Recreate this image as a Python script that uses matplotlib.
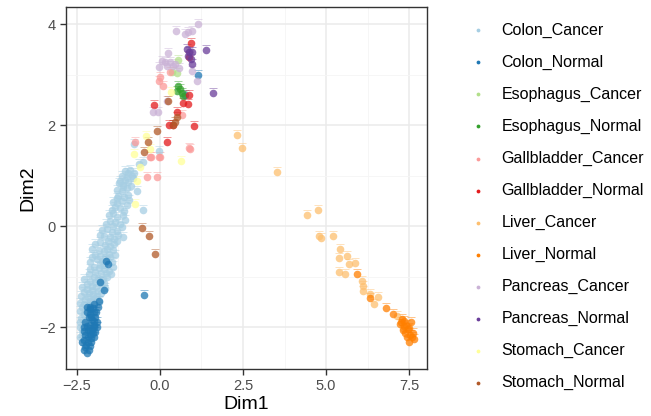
import numpy as np
import matplotlib
matplotlib.use("Agg")
import matplotlib.pyplot as plt

plt.rcParams['font.family'] = ['Liberation Sans', 'DejaVu Sans']

groups = ["Colon_Cancer", "Colon_Normal", "Esophagus_Cancer", "Esophagus_Normal",
          "Gallbladder_Cancer", "Gallbladder_Normal", "Liver_Cancer", "Liver_Normal",
          "Pancreas_Cancer", "Pancreas_Normal", "Stomach_Cancer", "Stomach_Normal"]
colors = ["#A6CEE3", "#1F78B4", "#B2DF8A", "#33A02C", "#FB9A99", "#E31A1C",
          "#FDBF6F", "#FF7F00", "#CAB2D6", "#6A3D9A", "#FFFF99", "#B15928"]

colon_cancer_x = [-0.78, -0.03, -0.63, -0.51, -0.69, -0.51,
                  -1.05, -0.95, -0.85, -1.15, -0.90,
                  -1.20, -1.05, -0.95, -0.82, -1.10,
                  -1.30, -1.15, -1.00, -0.95, -1.25, -1.08,
                  -1.40, -1.28, -1.15, -1.00, -1.35, -1.20,
                  -1.55, -1.40, -1.28, -1.10, -1.50, -1.35, -1.20, -1.05,
                  -1.75, -1.60, -1.45, -1.30, -1.68, -1.52, -1.38, -1.25,
                  -1.95, -1.80, -1.65, -1.50, -1.38, -1.85, -1.70, -1.55, -1.42,
                  -2.05, -1.90, -1.75, -1.60, -1.45, -2.00, -1.85, -1.70, -1.55,
                  -2.15, -2.00, -1.88, -1.72, -1.60, -2.20, -2.05, -1.92, -1.78, -1.65,
                  -2.30, -2.15, -2.02, -1.88, -2.25, -2.10, -1.95, -1.85,
                  -2.35, -2.20, -2.05, -2.30, -2.15,
                  -2.40, -2.35, -2.40, -2.30,
                  -1.00, -1.12, -0.88, -1.22, -0.78,
                  -1.08, -1.30, -0.92, -1.45,
                  -1.62, -1.15, -1.42, -1.80, -1.58, -1.30, -1.10,
                  -2.05, -1.60, -1.35, -1.95, -1.80, -1.65, -1.50, -2.10, -1.82, -1.68,
                  -1.40, -1.95, -1.78, -1.62, -1.48, -2.12,
                  -2.28, -2.10, -1.95, -1.82, -1.70, -2.35, -2.20, -2.05, -1.78, -2.38,
                  -2.18, -2.02, -1.90, -2.40, -2.28, -2.12, -1.98, -2.40, -2.25, -2.08,
                  -2.38, -2.25, -2.42, -2.35, -2.25]
colon_cancer_y = [1.62, 1.49, 1.23, 1.27, 0.69, 0.32,
                  1.10, 1.05, 1.00, 1.00, 1.12,
                  0.90, 0.92, 0.88, 0.95, 0.82,
                  0.72, 0.70, 0.75, 0.62, 0.60, 0.58,
                  0.48, 0.45, 0.50, 0.42, 0.38, 0.35,
                  0.22, 0.25, 0.18, 0.22, 0.10, 0.08, 0.05, 0.12,
                  -0.08, -0.05, -0.12, -0.10, -0.20, -0.22, -0.25, -0.18,
                  -0.35, -0.32, -0.38, -0.40, -0.35, -0.48, -0.50, -0.55, -0.48,
                  -0.62, -0.65, -0.70, -0.68, -0.72, -0.80, -0.82, -0.85, -0.88,
                  -0.95, -1.00, -1.02, -1.05, -1.00, -1.15, -1.18, -1.20, -1.15, -1.22,
                  -1.30, -1.32, -1.35, -1.28, -1.45, -1.48, -1.42, -1.50,
                  -1.60, -1.62, -1.58, -1.75, -1.72,
                  -1.90, -2.05, -2.20, -2.30,
                  0.98, 0.78, 0.80, 0.85, 1.05,
                  0.30, 0.55, 0.52, 0.32,
                  0.05, -0.02, 0.00, -0.18, -0.30, -0.30, -0.22,
                  -0.45, -0.45, -0.58, -0.58, -0.60, -0.62, -0.62, -0.72, -0.75, -0.78,
                  -0.80, -0.90, -0.92, -0.92, -0.95, -0.85,
                  -1.05, -1.08, -1.10, -1.08, -1.12, -1.20, -1.25, -1.26, -1.32, -1.38,
                  -1.40, -1.45, -1.38, -1.52, -1.55, -1.55, -1.52, -1.68, -1.68, -1.68,
                  -1.82, -1.85, -2.00, -2.15, -2.05]

colon_normal_x = [-0.48, -1.69, -1.84, -1.63, -1.58, 1.14, 0.75, -1.81,
                  -2.20, -2.10, -2.00, -1.95, -2.15, -2.05, -2.25, -2.10, -2.00, -1.90,
                  -2.30, -2.18, -2.05, -1.95, -2.25, -2.12, -2.00, -2.30, -2.18, -2.08,
                  -2.25, -2.15, -2.20, -2.35, -1.90, -2.10,
                  -2.12, -2.02, -1.92, -2.20, -2.08, -1.98, -2.20, -2.12, -2.02, -2.28,
                  -2.18, -2.08, -2.22, -2.12, -2.30, -1.98, -2.00, -1.88]
colon_normal_y = [-1.37, -1.27, -1.49, -0.70, -0.75, 2.99, 2.59, -1.11,
                  -1.60, -1.65, -1.70, -1.80, -1.80, -1.85, -1.90, -1.95, -1.95, -1.90,
                  -2.00, -2.05, -2.05, -2.10, -2.15, -2.15, -2.20, -2.25, -2.30, -2.30,
                  -2.40, -2.45, -2.52, -2.30, -2.00, -1.75,
                  -1.60, -1.62, -1.70, -1.70, -1.80, -1.88, -1.98, -2.08, -2.12, -2.08,
                  -2.20, -2.22, -2.35, -2.38, -2.45, -2.00, -1.55, -1.60]

esophagus_cancer_x = [0.54, 0.51, 0.36]
esophagus_cancer_y = [3.29, 3.03, 3.05]
esophagus_normal_x = [0.54, 0.60, 0.51, 0.66, 0.70]
esophagus_normal_y = [2.77, 2.71, 2.67, 2.63, 2.58]

gallbladder_cancer_x = [-0.03, 0.09, 0.90, 0.00, -0.30, -0.75, -0.27, -0.03,
                        -0.39, -0.09, 0.87, 0.00, 0.66, 0.30]
gallbladder_cancer_y = [2.87, 2.77, 1.52, 1.37, 1.37, 1.66, 1.37, 1.37,
                        0.97, 0.97, 1.54, 2.95, 2.20, 3.05]
gallbladder_normal_x = [0.93, 0.87, 0.87, -0.18, 0.69, 0.51, 0.27, 0.39, 1.02, 0.21, 0.84]
gallbladder_normal_y = [3.62, 3.35, 2.59, 2.40, 2.44, 2.26, 2.00, 2.00, 1.98, 1.66, 2.42]

liver_cancer_x = [2.32, 2.46, 3.52, 4.43, 4.76, 4.79, 4.84, 5.20, 5.41, 5.40, 5.63,
                  5.68, 5.88, 5.39, 5.57, 6.08, 6.10, 6.12, 6.33, 6.56, 6.45, 7.13, 7.33]
liver_cancer_y = [1.80, 1.54, 1.07, 0.22, 0.32, -0.20, -0.23, -0.19, -0.45, -0.64, -0.59,
                  -0.76, -0.74, -0.90, -0.94, -1.08, -1.18, -1.28, -1.35, -1.41, -1.55, -1.79, -2.01]
liver_normal_x = [5.94, 6.33, 6.80, 7.03, 7.23, 7.29, 7.35, 7.41, 7.47, 7.38, 7.53, 7.59,
                  7.44, 7.32, 7.50, 7.56, 7.65, 7.26, 7.62, 7.50, 7.35]
liver_normal_y = [-0.94, -1.43, -1.62, -1.74, -1.94, -1.84, -1.88, -1.96, -2.04, -2.12, -2.16,
                  -2.20, -2.20, -2.06, -2.02, -1.90, -2.24, -1.90, -2.12, -2.30, -1.98]

pancreas_cancer_x = [0.48, 0.84, 0.96, 1.14, 0.24, 0.15, 0.06, 0.21, 0.30, 0.39, 0.45,
                     0.57, 0.96, 1.11, -0.03, -0.21, -0.06, 0.21, 0.90, 0.75]
pancreas_cancer_y = [3.86, 3.84, 3.86, 4.00, 3.43, 3.25, 3.27, 3.17, 3.25, 3.17, 3.21,
                     3.13, 3.07, 2.87, 3.15, 2.26, 2.26, 2.48, 3.47, 3.80]
pancreas_normal_x = [0.81, 0.87, 0.96, 0.84, 0.93, 0.96, 1.39, 1.60]
pancreas_normal_y = [3.50, 3.45, 3.45, 3.37, 3.31, 3.21, 3.49, 2.63]

stomach_cancer_x = [0.33, -0.42, -0.78, -0.60, -0.69, 0.63, -0.75, -0.30]
stomach_cancer_y = [2.65, 1.78, 1.43, 1.17, 0.89, 1.29, 0.44, 1.52]
stomach_normal_x = [-0.09, 0.24, 0.51, 0.45, -0.36, -0.48, 0.39, -0.54, -0.33, -0.15]
stomach_normal_y = [1.88, 2.48, 2.16, 2.06, 1.66, 1.47, 2.00, -0.04, -0.20, -0.55]

xs = [colon_cancer_x, colon_normal_x, esophagus_cancer_x, esophagus_normal_x,
      gallbladder_cancer_x, gallbladder_normal_x, liver_cancer_x, liver_normal_x,
      pancreas_cancer_x, pancreas_normal_x, stomach_cancer_x, stomach_normal_x]
ys = [colon_cancer_y, colon_normal_y, esophagus_cancer_y, esophagus_normal_y,
      gallbladder_cancer_y, gallbladder_normal_y, liver_cancer_y, liver_normal_y,
      pancreas_cancer_y, pancreas_normal_y, stomach_cancer_y, stomach_normal_y]

fig = plt.figure(figsize=(6.51, 4.16), dpi=100)
ax = fig.add_axes([66 / 651, 1 - 369 / 416, (427 - 66) / 651, (369 - 7) / 416])

for name, c, x, y in zip(groups, colors, xs, ys):
    x = np.array(x)
    y = np.array(y)
    ax.scatter(x, y, s=30, color=c, alpha=0.75, linewidths=0, label=name, zorder=3)
    # tiny sample tags sitting just above each point
    ax.scatter(x, y + 0.1, s=28, marker="_", color=c, alpha=0.45, linewidths=0.7, zorder=2)

ax.set_xlim(-2.83, 8.04)
ax.set_ylim(-2.83, 4.34)
ax.set_xticks([-2.5, 0.0, 2.5, 5.0, 7.5])
ax.set_xticklabels(["\u22122.5", "0.0", "2.5", "5.0", "7.5"])
ax.set_yticks([-2, 0, 2, 4])
ax.set_yticklabels(["\u22122", "0", "2", "4"])
ax.set_xticks([-1.25, 1.25, 3.75, 6.25], minor=True)
ax.set_yticks([-1, 1, 3], minor=True)
ax.grid(True, which="major", color="#EBEBEB", linewidth=1.1, zorder=0)
ax.grid(True, which="minor", color="#F5F5F5", linewidth=0.6, zorder=0)
ax.set_axisbelow(True)
for sp in ax.spines.values():
    sp.set_color("#333333")
    sp.set_linewidth(1.0)
ax.tick_params(which="major", length=4, width=1, color="#333333",
               labelsize=10.5, labelcolor="#4D4D4D")
ax.tick_params(which="minor", length=0)
ax.set_xlabel("Dim1", fontsize=14, labelpad=2)
ax.set_ylabel("Dim2", fontsize=14, labelpad=2)

leg = ax.legend(loc="upper left", bbox_to_anchor=(1.08, 0.975), frameon=False,
                fontsize=11.5, labelspacing=1.06, handletextpad=0.45,
                markerscale=0.5, borderaxespad=0)
for h in leg.legend_handles:
    h.set_alpha(1)

fig.savefig("out.png", dpi=100)
